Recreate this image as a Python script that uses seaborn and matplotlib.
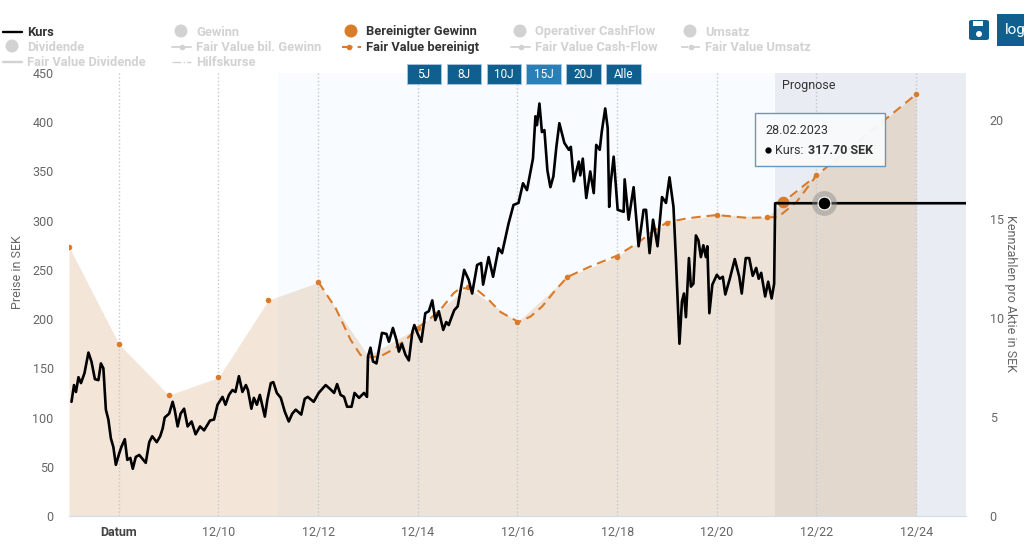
import matplotlib
matplotlib.use('Agg')
import matplotlib.pyplot as plt
import seaborn as sns
from matplotlib.lines import Line2D
from matplotlib.patches import Rectangle, Circle, FancyBboxPatch

# x values are years, 2008.0 being the 12/08 gridline
kurs_years = [2007.05, 2007.10, 2007.14, 2007.19, 2007.24, 2007.31, 2007.39, 2007.45, 2007.52, 2007.59,
              2007.64, 2007.69, 2007.74, 2007.79, 2007.84, 2007.89, 2007.94, 2008.01, 2008.05, 2008.12,
              2008.17, 2008.23, 2008.28, 2008.34, 2008.41, 2008.54, 2008.61, 2008.67, 2008.76, 2008.83,
              2008.88, 2008.92, 2009.01, 2009.08, 2009.12, 2009.18, 2009.24, 2009.31, 2009.38, 2009.46,
              2009.54, 2009.63, 2009.71, 2009.83, 2009.91, 2009.98, 2010.08, 2010.14, 2010.21, 2010.28,
              2010.34, 2010.41, 2010.48, 2010.55, 2010.59, 2010.66, 2010.71, 2010.77, 2010.83, 2010.93,
              2010.98, 2011.05, 2011.10, 2011.17, 2011.25, 2011.33, 2011.41, 2011.48, 2011.55, 2011.66,
              2011.73, 2011.79, 2011.91, 2012.01, 2012.15, 2012.24, 2012.32, 2012.38, 2012.45, 2012.52,
              2012.58, 2012.67, 2012.73, 2012.82, 2012.92, 2012.98, 2013.00, 2013.05, 2013.10, 2013.17,
              2013.22, 2013.28, 2013.37, 2013.42, 2013.50, 2013.57, 2013.62, 2013.68, 2013.75, 2013.82,
              2013.89, 2013.93, 2013.99, 2014.07, 2014.15, 2014.22, 2014.29, 2014.35, 2014.42, 2014.51,
              2014.57, 2014.62, 2014.67, 2014.73, 2014.80, 2014.93, 2015.02, 2015.09, 2015.19,
              2015.27, 2015.31, 2015.42, 2015.51, 2015.62, 2015.69, 2015.82, 2015.92, 2016.02, 2016.11,
              2016.19, 2016.31, 2016.36, 2016.39, 2016.44, 2016.49, 2016.54, 2016.60, 2016.66, 2016.72,
              2016.78, 2016.84, 2016.94, 2017.03, 2017.07, 2017.13, 2017.23, 2017.26, 2017.31, 2017.38,
              2017.46, 2017.53, 2017.58, 2017.65, 2017.69, 2017.76, 2017.81, 2017.84, 2017.87, 2017.93,
              2018.01, 2018.13, 2018.15, 2018.23, 2018.33, 2018.43, 2018.53, 2018.58, 2018.65, 2018.72,
              2018.81, 2018.90, 2018.98, 2019.05, 2019.13, 2019.18, 2019.25, 2019.30, 2019.34, 2019.38,
              2019.44, 2019.48, 2019.53, 2019.58, 2019.63, 2019.68, 2019.73, 2019.78, 2019.81, 2019.85,
              2019.91, 2020.00, 2020.06, 2020.12, 2020.17, 2020.26, 2020.36, 2020.45, 2020.50, 2020.58,
              2020.65, 2020.72, 2020.79, 2020.84, 2020.89, 2020.97, 2021.03, 2021.10, 2021.15, 2021.17,
              2025.00]
kurs_values = [116, 133, 126, 141, 135, 145, 166, 157, 139, 138,
               155, 150, 108, 98, 79, 70, 52, 64, 70, 78,
               57, 59, 48, 60, 62, 54, 75, 81, 75, 81,
               89, 100, 104, 116, 108, 91, 104, 109, 91, 96,
               83, 91, 87, 97, 98, 113, 121, 113, 123, 128,
               126, 142, 126, 133, 128, 109, 120, 113, 123, 101,
               118, 135, 136, 125, 120, 106, 96, 104, 108, 103,
               119, 121, 116, 125, 133, 129, 125, 134, 123, 121,
               111, 111, 125, 120, 125, 121, 162, 171, 157, 155,
               169, 186, 185, 177, 191, 179, 167, 175, 164, 158,
               187, 194, 186, 177, 206, 208, 219, 199, 208, 189,
               197, 194, 201, 209, 213, 250, 240, 226, 255,
               257, 235, 263, 243, 272, 267, 297, 316, 318, 338,
               331, 363, 406, 397, 419, 390, 392, 351, 334, 345,
               375, 399, 379, 372, 375, 340, 360, 346, 363, 323,
               350, 328, 377, 372, 390, 414, 394, 314, 338, 365,
               311, 309, 342, 301, 334, 274, 311, 311, 267, 301,
               274, 324, 318, 344, 314, 260, 175, 218, 226, 202,
               262, 233, 236, 285, 280, 263, 275, 263, 274, 206,
               235, 245, 241, 243, 225, 241, 261, 243, 226, 262,
               262, 244, 252, 241, 247, 223, 238, 221, 236, 317.7,
               317.7]

eps_years = [2007, 2008, 2009, 2010, 2011, 2012, 2013, 2014, 2015, 2016, 2017, 2018, 2019, 2020, 2021, 2022, 2024]
eps_values = [13.6, 8.7, 6.1, 7.0, 10.9, 11.8, 8.1, 9.5, 11.55, 9.8, 12.07, 13.1, 14.8, 15.2, 15.1, 17.2, 21.3]
marker_years = [2007, 2008, 2009, 2010, 2011, 2012, 2014, 2015, 2016, 2017, 2018, 2019, 2020, 2021, 2022, 2024]
marker_values = [13.6, 8.7, 6.1, 7.0, 10.9, 11.8, 9.5, 11.55, 9.8, 12.07, 13.1, 14.8, 15.2, 15.1, 17.2, 21.3]

fair_years = [2012.01, 2012.35, 2012.65, 2012.85, 2013.0, 2013.26, 2013.52, 2013.8, 2014.02, 2014.26, 2014.5,
              2014.72, 2014.85, 2015.15, 2015.39, 2015.66, 2016.02, 2016.26, 2016.49, 2016.76, 2017.0,
              2017.46, 2018.0, 2018.4, 2018.66, 2019.0, 2019.4, 2019.66, 2020.0, 2020.6, 2021.0, 2021.23,
              2021.6, 2022.0, 2024.0]
fair_values = [11.8, 10.5, 8.9, 8.13, 8.0, 8.08, 8.43, 9.0, 9.55, 10.0, 10.56,
               11.26, 11.5, 11.5, 11.0, 10.3, 9.8, 10.07, 10.57, 11.4, 12.07,
               12.6, 13.15, 13.77, 14.27, 14.83, 15.03, 15.11, 15.2, 15.06, 15.08, 15.1,
               15.86, 17.2, 21.3]
current_years = [2021.2, 2021.33, 2022.0]
current_values = [15.85, 15.85, 17.2]

hover_year, hover_kurs = 2022.15, 317.7
current_marker_year, current_marker_value = 2021.33, 15.85

price_ticks = [0, 50, 100, 150, 200, 250, 300, 350, 400, 450]
eps_ticks = [0, 5, 10, 15, 20]
x_ticks = [2008, 2010, 2012, 2014, 2016, 2018, 2020, 2022, 2024]
x_labels = ['Datum', '12/10', '12/12', '12/14', '12/16', '12/18', '12/20', '12/22', '12/24']

legend_items = [
    ('Kurs', 27, 32, 'line', True), ('Gewinn', 196, 32, 'dot', False),
    ('Bereinigter Gewinn', 366, 32, 'dot', True), ('Operativer CashFlow', 535, 32, 'dot', False),
    ('Umsatz', 705, 32, 'dot', False), ('Dividende', 27, 47, 'dot', False),
    ('Fair Value bil. Gewinn', 196, 47, 'markline', False), ('Fair Value bereinigt', 366, 47, 'dash', True),
    ('Fair Value Cash-Flow', 535, 47, 'markline', False), ('Fair Value Umsatz', 705, 47, 'dashmark', False),
    ('Fair Value Dividende', 27, 62, 'line', False), ('Hilfskurse', 196, 62, 'dashdot', False),
]
buttons = [('5J', 407, 441), ('8J', 447, 481), ('10J', 487, 521), ('15J', 526, 561), ('20J', 566, 601), ('Alle', 606, 641)]

ORANGE = '#D97B29'
GREY = '#666666'
INACTIVE = '#D2D2D2'
BLUE = '#0F5F8F'
TOP = 10

sns.set_style('white')
plt.rcParams['font.family'] = ['Roboto', 'DejaVu Sans']

fig = plt.figure(figsize=(10.24, 5.45), dpi=100)


def fx(px):
    return px / 1024


def fy(py):
    return 1 - py / 545


ax = fig.add_axes([fx(69), fy(516), (966 - 69) / 1024, (516 - 73) / 545])
ax2 = ax.twinx()
ax.set_zorder(2)
ax2.set_zorder(1)
ax.patch.set_visible(False)

# forecast bands and gridlines
ax2.axvspan(2011.2, 2021.17, color='#F8FBFF', lw=0, zorder=0)
ax2.axvspan(2021.17, 2025, color='#E9EDF3', lw=0, zorder=0)
ax2.fill_between(eps_years, eps_values, color='#C47F33', alpha=0.19, lw=0, zorder=1)
for x in x_ticks:
    ax2.axvline(x, color='#C4C8CE', lw=1, ls=':', zorder=2)

sns.lineplot(x=fair_years, y=fair_values, ax=ax2, color=ORANGE, lw=1.5, dashes=(4.5, 2.8), estimator=None, sort=False, zorder=3)
sns.lineplot(x=current_years, y=current_values, ax=ax2, color=ORANGE, lw=1.5, dashes=(4.5, 2.8), estimator=None, sort=False, zorder=3)
sns.scatterplot(x=marker_years, y=marker_values, ax=ax2, color=ORANGE, s=16, linewidth=0, zorder=4)
sns.scatterplot(x=[current_marker_year], y=[current_marker_value], ax=ax2, color=ORANGE, s=70, linewidth=0, zorder=4)

sns.lineplot(x=kurs_years, y=kurs_values, ax=ax, color='black', lw=1.9, estimator=None, sort=False, zorder=5)
sns.scatterplot(x=[hover_year], y=[hover_kurs], ax=ax, color='#888888', alpha=0.45, s=320, linewidth=0, zorder=6)
sns.scatterplot(x=[hover_year], y=[hover_kurs], ax=ax, color='black', s=85, edgecolor='white', linewidth=0.8, zorder=7)

ax.set_xlim(2007, 2025)
ax.set_ylim(0, 450)
ax2.set_ylim(0, 443 / 19.8)
ax.set_yticks(price_ticks)
ax2.set_yticks(eps_ticks)
ax.set_xticks(x_ticks)
ax.set_xticklabels(x_labels)
ax.tick_params(axis='x', length=0, pad=7, labelsize=9, labelcolor=GREY)
ax.tick_params(axis='y', length=0, pad=11, labelsize=9, labelcolor=GREY)
ax2.tick_params(axis='y', length=0, pad=17, labelsize=9, labelcolor=GREY)
ax.get_xticklabels()[0].set_fontweight('bold')
ax.get_xticklabels()[0].set_color('#444444')
ax.set_xlabel('')
ax.set_ylabel('')
ax2.set_ylabel('')
for a in (ax, ax2):
    for side in ('top', 'left', 'right'):
        a.spines[side].set_visible(False)
    a.spines['bottom'].set_color('#D5DDEB')

fig.text(fx(18), fy(272), 'Preise in SEK', rotation=90, ha='center', va='center', fontsize=9, color=GREY)
fig.text(fx(1011), fy(293), 'Kennzahlen pro Aktie in SEK', rotation=270, ha='center', va='center', fontsize=9, color=GREY)
fig.text(fx(782), fy(85), 'Prognose', ha='left', va='center', fontsize=9, color='#333333', zorder=TOP)

# legend, drawn by hand since the entries sit in a loose grid
for label, tx, ty, kind, active in legend_items:
    color = '#333333' if active else INACTIVE
    mark = ORANGE if label.startswith('Bereinigter') or label.startswith('Fair Value bereinigt') else INACTIVE
    if label == 'Kurs':
        mark = 'black'
    fig.text(fx(tx), fy(ty), label, ha='left', va='center', fontsize=9.3, fontweight='bold', color=color, zorder=TOP)
    x0, x1 = fx(tx - 24), fx(tx - 5)
    y0 = fy(ty)
    if kind == 'dot':
        fig.add_artist(Circle((tx - 15, 545 - ty + 1), 6.5, color=mark, lw=0, transform=None, zorder=TOP))
    elif kind == 'line':
        fig.add_artist(Line2D([x0, x1], [y0, y0], color=mark, lw=1.7, zorder=TOP))
    elif kind == 'markline':
        fig.add_artist(Line2D([x0, (x0 + x1) / 2, x1], [y0, y0, y0], color=mark, lw=1.3, marker='o', ms=3, markevery=[1], zorder=TOP))
    elif kind == 'dash':
        fig.add_artist(Line2D([x0, x1], [y0, y0], color=mark, lw=1.5, dashes=(5, 2.5), zorder=TOP))
        fig.add_artist(Line2D([(x0 + x1) / 2 - 0.002], [y0], color=mark, marker='o', ms=3, zorder=TOP))
    elif kind == 'dashmark':
        fig.add_artist(Line2D([x0, x1], [y0, y0], color=mark, lw=1.3, dashes=(4, 2.5), zorder=TOP))
        fig.add_artist(Line2D([(x0 + x1) / 2], [y0], color=mark, marker='o', ms=3, zorder=TOP))
    else:
        fig.add_artist(Line2D([x0, x1], [y0, y0], color=mark, lw=1, ls='-.', zorder=TOP))

# range buttons
for label, x0, x1 in buttons:
    face = '#2B7FB8' if label == '15J' else BLUE
    fig.add_artist(Rectangle((fx(x0), fy(84)), (x1 - x0) / 1024, 20 / 545, facecolor=face, edgecolor='#A9C8E0', lw=0.6, zorder=TOP))
    fig.text(fx((x0 + x1) / 2), fy(74), label, ha='center', va='center', fontsize=8.5, color='white', zorder=TOP + 1)

# save icon and log button
fig.add_artist(FancyBboxPatch((fx(969), fy(40)), 20 / 1024, 20 / 545, boxstyle='round,pad=0,rounding_size=0.003', facecolor=BLUE, lw=0))
fig.add_artist(Rectangle((fx(973), fy(26)), 10 / 1024, 5 / 545, facecolor='white', lw=0))
fig.add_artist(Circle((979, 545 - 34), 3, color='white', lw=0, transform=None))
fig.add_artist(Rectangle((fx(997), fy(46)), 27 / 1024, 32 / 545, facecolor=BLUE, lw=0))
fig.text(fx(1005), fy(30), 'log', ha='left', va='center', fontsize=11, color='white')

# tooltip
fig.add_artist(Rectangle((fx(755), fy(166)), 130 / 1024, 53 / 545, facecolor='#F9FAFB', edgecolor='#5B93BF', lw=1, alpha=0.95, zorder=TOP))
fig.text(fx(765), fy(130), '28.02.2023', ha='left', va='center', fontsize=9, color='#333333', zorder=TOP + 1)
fig.add_artist(Line2D([fx(768)], [fy(150)], color='black', marker='o', ms=3.5, zorder=TOP + 1))
fig.text(fx(775), fy(150), 'Kurs:', ha='left', va='center', fontsize=9, color='#333333', zorder=TOP + 1)
fig.text(fx(808), fy(150), '317.70 SEK', ha='left', va='center', fontsize=9, fontweight='bold', color='#333333', zorder=TOP + 1)

fig.savefig('out.png', dpi=100)
plt.close('all')
